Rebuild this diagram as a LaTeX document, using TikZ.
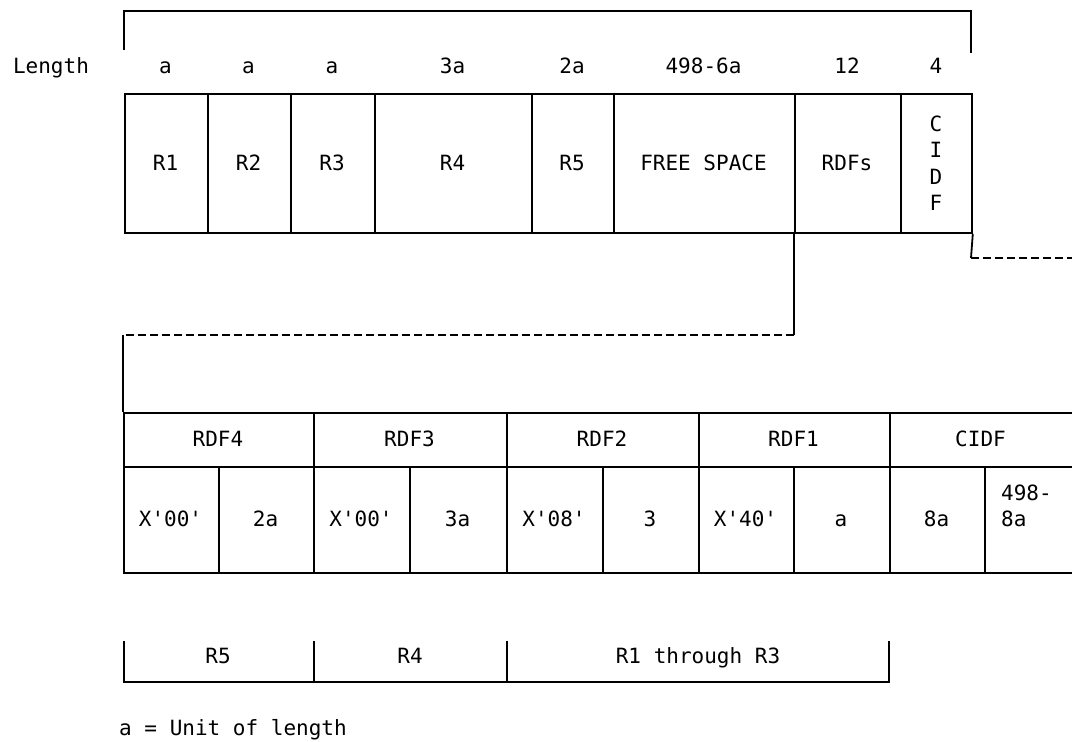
\documentclass[tikz,border=0pt]{standalone}
\usepackage{fontspec}
\setmainfont{DejaVu Sans Mono}
\newcommand{\qq}{\textquotesingle}
\begin{document}
\begin{tikzpicture}[x=1pt,y=-1pt,
  every node/.style={font=\fontsize{21}{27}\selectfont, inner sep=0pt},
  ln/.style={line width=1.8pt, line join=miter},
  dsh/.style={line width=1.8pt, dash pattern=on 8pt off 4pt},
  cell/.style={draw, line width=1.8pt, rectangle, anchor=north west},
  lbl/.style={anchor=center, text height=15pt, text depth=0pt}]
\useasboundingbox (0,0) rectangle (1072,742);
\clip (0,0) rectangle (1072,742);

% ---- top record ----
\node[lbl] (lenlab) at (51,66) {Length};
\foreach \nm/\xa/\xb/\txt/\len in {r1/124/207/R1/a, r2/207/290/R2/a, r3/290/374/R3/a, r4/374/531/R4/3a, r5/531/613/R5/2a, free/613/794/FREE SPACE/498-6a, rdfs/794/900/RDFs/12}{
  \node[cell, minimum width={\xb-\xa}, minimum height=139] (\nm) at (\xa,93) {};
  \node[lbl] (\nm t) at ({(\xa+\xb)/2},163) {\txt};
  \node[lbl] (\nm l) at ({(\xa+\xb)/2},66) {\len};
}
\node[cell, minimum width=71, minimum height=139] (cidf) at (900,93) {};
\node[anchor=center, align=center, font=\fontsize{21}{26.5}\selectfont] (cidft) at (936,163) {C\\I\\D\\F};
\node[lbl] (cidfl) at (936,66) {4};

% top bracket
\coordinate (tb1) at (124,50);
\coordinate (tb2) at (124,11);
\coordinate (tb3) at (971,11);
\coordinate (tb4) at (971,53);
\draw[ln] (tb1) -- (tb2) -- (tb3) -- (tb4);

% connector from CIDF
\coordinate (k1) at (971,258);
\coordinate (k2) at (1072,258);
\draw[ln] (cidf.south east) -- (k1);
\draw[dsh] (k1) -- (k2);

% connector from RDFs
\coordinate (m1) at (794,335);
\coordinate (m2) at (123,335);
\draw[ln] (rdfs.south west) -- (m1);
\draw[dsh] (m1) -- (m2);

% ---- lower table ----
\foreach \nm/\xa/\xb in {h4/123/313, h3/313/506, h2/506/698, h1/698/889, hc/889/1090}{
  \node[cell, minimum width={\xb-\xa}, minimum height=54] (\nm) at (\xa,412) {};
}
\foreach \nm/\xa/\xb/\txt in {h4/123/313/RDF4, h3/313/506/RDF3, h2/506/698/RDF2, h1/698/889/RDF1, hc/889/1072/CIDF}{
  \node[lbl] (\nm t) at ({(\xa+\xb)/2},439) {\txt};
}
\foreach \nm/\xa/\xb/\txt in {s1/123/218/X\qq00\qq, s2/218/313/2a, s3/313/409/X\qq00\qq, s4/409/506/3a, s5/506/602/X\qq08\qq, s6/602/698/3, s7/698/793/X\qq40\qq, s8/793/889/a, s9/889/984/8a}{
  \node[cell, minimum width={\xb-\xa}, minimum height=106] (\nm) at (\xa,466) {};
  \node[lbl] (\nm t) at ({(\xa+\xb)/2},519) {\txt};
}
\node[cell, minimum width=110, minimum height=106] (s10) at (984,466) {};
\node[anchor=west, align=left, font=\fontsize{21}{26}\selectfont] (s10t) at (1001,506) {498-\\8a};

\draw[ln] (m2) -- (h4.north west);

% ---- bottom bracket ----
\coordinate (b1) at (124,641); \coordinate (b1b) at (124,682);
\coordinate (b2) at (314,641); \coordinate (b2b) at (314,682);
\coordinate (b3) at (507,641); \coordinate (b3b) at (507,682);
\coordinate (b4) at (889,641); \coordinate (b4b) at (889,682);
\draw[ln] (b1) -- (b1b) -- (b4b) -- (b4);
\draw[ln] (b2) -- (b2b);
\draw[ln] (b3) -- (b3b);
\node[lbl] (br5) at (218,656) {R5};
\node[lbl] (br4) at (410,656) {R4};
\node[lbl] (br13) at (698,656) {R1 through R3};

\node[anchor=base west] (note) at (119,735) {a = Unit of length};
\end{tikzpicture}
\end{document}
